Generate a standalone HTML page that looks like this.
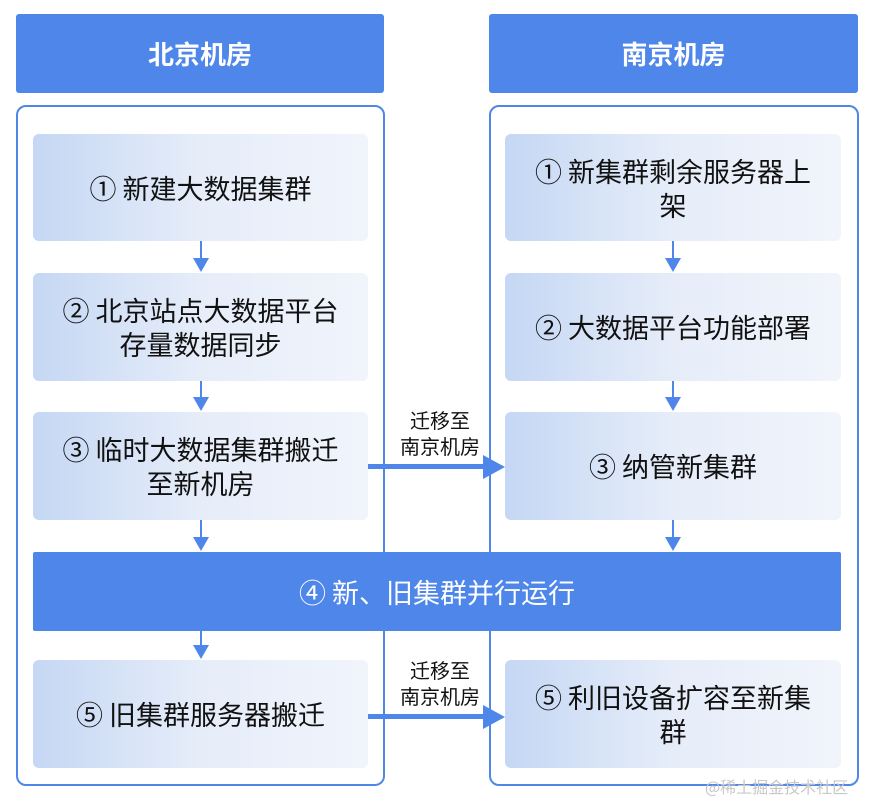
<!DOCTYPE html>
<html><head><meta charset="utf-8"><style>
body{margin:0;width:873px;height:803px;background:#fff;position:relative;overflow:hidden;font-family:"Noto Sans CJK SC","Liberation Sans",sans-serif;}
.a{position:absolute;box-sizing:border-box}
.hd{background:#4e86ea;color:#fff;font-weight:bold;font-size:26px;display:flex;align-items:center;justify-content:center;border-radius:3px}
.ct{border:2.5px solid #4e86ea;border-radius:10px}
.bx{background:linear-gradient(90deg,#c5d7f4,#e6edf9 50%,#f1f4fb);border-radius:6px;display:flex;align-items:center;justify-content:center;text-align:center;font-size:27px;color:#111;line-height:34px;padding:0 10px}
.va{position:absolute;width:2px;background:#4e86ea}
.vh{position:absolute;width:0;height:0;border-left:8px solid transparent;border-right:8px solid transparent;border-top:14px solid #4e86ea}
.lb{position:absolute;font-size:20px;line-height:26px;text-align:center;color:#111;width:110px}
</style></head><body>
<div class="a hd" style="left:16px;top:14px;width:368px;height:79px">北京机房</div>
<div class="a hd" style="left:489px;top:14px;width:369px;height:79px">南京机房</div>
<div class="a ct" style="left:16px;top:105px;width:369px;height:681px"></div>
<div class="a ct" style="left:489px;top:105px;width:370px;height:681px"></div>

<div class="a bx" style="left:33px;top:134px;width:335px;height:107px">① 新建大数据集群</div>
<div class="a bx" style="left:33px;top:273px;width:335px;height:108px">② 北京站点大数据平台<br>存量数据同步</div>
<div class="a bx" style="left:33px;top:412px;width:335px;height:108px">③ 临时大数据集群搬迁<br>至新机房</div>
<div class="a bx" style="left:33px;top:660px;width:335px;height:108px">⑤ 旧集群服务器搬迁</div>

<div class="a bx" style="left:505px;top:134px;width:336px;height:107px">① 新集群剩余服务器上<br>架</div>
<div class="a bx" style="left:505px;top:273px;width:336px;height:108px">② 大数据平台功能部署</div>
<div class="a bx" style="left:505px;top:412px;width:336px;height:108px">③ 纳管新集群</div>
<div class="a bx" style="left:505px;top:660px;width:336px;height:108px">⑤ 利旧设备扩容至新集<br>群</div>

<div class="a" style="left:33px;top:552px;width:808px;height:79px;background:#4e86ea;color:#fff;font-size:27px;display:flex;align-items:center;justify-content:center;border-radius:2px">④ 新、旧集群并行运行</div>

<div class="va" style="left:200px;top:241px;height:18px"></div><div class="vh" style="left:193px;top:258px"></div>
<div class="va" style="left:200px;top:381px;height:17px"></div><div class="vh" style="left:193px;top:397px"></div>
<div class="va" style="left:200px;top:520px;height:18px"></div><div class="vh" style="left:193px;top:537px"></div>
<div class="va" style="left:200px;top:631px;height:15px"></div><div class="vh" style="left:193px;top:645px"></div>
<div class="va" style="left:672px;top:241px;height:18px"></div><div class="vh" style="left:665px;top:258px"></div>
<div class="va" style="left:672px;top:381px;height:17px"></div><div class="vh" style="left:665px;top:397px"></div>
<div class="va" style="left:672px;top:520px;height:18px"></div><div class="vh" style="left:665px;top:537px"></div>

<div class="a" style="left:368px;top:464px;width:118px;height:5px;background:#4e86ea"></div>
<div class="a" style="left:483px;top:455px;width:0;height:0;border-top:12px solid transparent;border-bottom:12px solid transparent;border-left:22px solid #4e86ea"></div>
<div class="lb" style="left:385px;top:407px">迁移至<br>南京机房</div>
<div class="a" style="left:368px;top:714px;width:118px;height:5px;background:#4e86ea"></div>
<div class="a" style="left:483px;top:705px;width:0;height:0;border-top:12px solid transparent;border-bottom:12px solid transparent;border-left:22px solid #4e86ea"></div>
<div class="lb" style="left:385px;top:657px">迁移至<br>南京机房</div>

<div class="a" style="left:705px;top:774px;font-size:16px;color:#c8c8c8">@稀土掘金技术社区</div>
</body></html>
